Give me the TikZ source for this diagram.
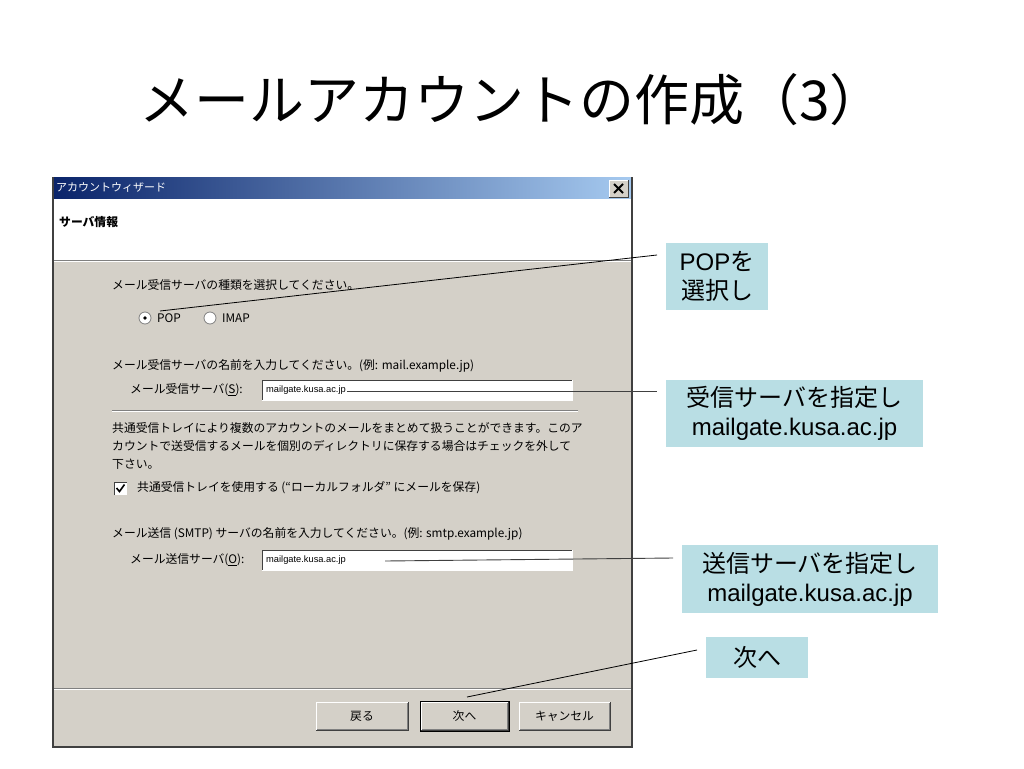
\documentclass[tikz,border=0pt]{standalone}
\usepackage{fontspec}
\setmainfont{Noto Sans CJK JP}
\newfontfamily\lat{Liberation Sans}
\usetikzlibrary{calc}
\definecolor{dlg}{HTML}{D4D0C8}
\definecolor{tbl}{HTML}{0A246A}
\definecolor{tbr}{HTML}{A6CAF0}
\definecolor{callfill}{HTML}{B9DEE4}
\definecolor{shadow}{HTML}{808080}
\definecolor{dkshadow}{HTML}{404040}
\tikzset{
  ui/.style={font=\fontsize{11.8}{13}\selectfont, anchor=west, inner sep=0pt, text=black},
  callout/.style={fill=callfill, draw=none, align=center, inner sep=0pt,
    font=\fontsize{24}{29}\selectfont, text=black},
  lead/.style={draw=black, line width=0.8pt},
  leadgray/.style={draw=dkshadow, line width=0.9pt},
  btntext/.style={font=\fontsize{11.8}{13}\selectfont, inner sep=0pt},
  etch/.style={draw=shadow, line width=0.8pt},
  etchw/.style={draw=white, line width=0.8pt},
}
\begin{document}
\begin{tikzpicture}[x=1pt,y=-1pt]
\useasboundingbox (0,0) rectangle (1024,768);
\fill[white] (0,0) rectangle (1024,768);
% title
\node[font=\fontsize{55}{62}\selectfont, inner sep=0pt] (title) at (512,100) {メールアカウントの作成（3）};
% dialog
\fill[dlg] (53,177) rectangle (632,747);
\shade[left color=tbl, right color=tbr] (53,177) rectangle (632,199);
\node[ui, text=white, font=\fontsize{11}{13}\selectfont] (wiztitle) at (56,188) {アカウントウィザード};
% close button
\fill[dlg] (609,180) rectangle (628,197);
\draw[white, line width=0.8pt] (609,197) -- (609,180) -- (628,180);
\draw[dkshadow, line width=0.8pt] (609,197) -- (628,197) -- (628,180);
\draw[line width=1.8pt] (614,184) -- (623,193) (623,184) -- (614,193);
% header
\fill[white] (53,199) rectangle (632,260);
\node[ui, font=\fontsize{11.8}{13}\selectfont\bfseries] (hdr) at (59,222) {サーバ情報};
\draw[etch] (53,260) -- (632,260);
\draw[etchw] (53,261.2) -- (632,261.2);
% body texts
\node[ui] (q1) at (112,285) {メール受信サーバの種類を選択してください。};
\fill[white] (145,318) circle (6);
\draw[shadow, line width=0.8pt] (145,318) circle (6);
\fill[black] (145,318) circle (1.8);
\node[ui] (pop) at (157,318) {POP};
\fill[white] (210,318) circle (6);
\draw[shadow, line width=0.8pt] (210,318) circle (6);
\node[ui] (imap) at (222,318) {IMAP};
\node[ui] (q2) at (112,366) {メール受信サーバの名前を入力してください。(例: mail.example.jp)};
\node[ui] (recvlbl) at (130,390) {メール受信サーバ(\underline{S}):};
\fill[white] (262,380) rectangle (572,400);
\draw[dkshadow, line width=1pt] (262,400) -- (262,380) -- (572,380);
\draw[white, line width=1pt] (262,400) -- (572,400) -- (572,380);
\node[ui, font=\lat\fontsize{9.3}{11}\selectfont] (recvval) at (266,390) {mailgate.kusa.ac.jp};
\draw[etch] (112,410) -- (578,410);
\draw[etchw] (112,411.2) -- (578,411.2);
\node[ui] (p1) at (112,428) {共通受信トレイにより複数のアカウントのメールをまとめて扱うことができます。このア};
\node[ui] (p2) at (112,446) {カウントで送受信するメールを個別のディレクトリに保存する場合はチェックを外して};
\node[ui] (p3) at (112,464) {下さい。};
\fill[white] (114,482) rectangle (127,495);
\draw[dkshadow, line width=1pt] (114,495) -- (114,482) -- (127,482);
\draw[line width=1.6pt] (116.5,488) -- (119.5,491.5) -- (124.5,484.5);
\node[ui] (chk) at (137,488) {共通受信トレイを使用する (“ローカルフォルダ” にメールを保存)};
\node[ui] (q3) at (112,534) {メール送信 (SMTP) サーバの名前を入力してください。(例: smtp.example.jp)};
\node[ui] (sendlbl) at (130,560) {メール送信サーバ(\underline{O}):};
\fill[white] (262,550) rectangle (572,570);
\draw[dkshadow, line width=1pt] (262,570) -- (262,550) -- (572,550);
\draw[white, line width=1pt] (262,570) -- (572,570) -- (572,550);
\node[ui, font=\lat\fontsize{9.3}{11}\selectfont] (sendval) at (266,560) {mailgate.kusa.ac.jp};
% bottom
\draw[etch] (53,688) -- (632,688);
\draw[etchw] (53,689.2) -- (632,689.2);
% buttons
\foreach \xa/\xb/\lbl/\nm in {316/408/戻る/back, 421/508/次へ/next, 519/610/キャンセル/cancel}{
  \draw[white, line width=1pt] (\xa,730) -- (\xa,702) -- (\xb,702);
  \draw[dkshadow, line width=1pt] (\xa,730) -- (\xb,730) -- (\xb,702);
  \draw[shadow, line width=1pt] (\xa+1,729) -- (\xb-1,729) -- (\xb-1,703);
  \node[btntext] (\nm) at ({(\xa+\xb)/2},716) {\lbl};
}
\draw[black, line width=1pt] (420,701) rectangle (509,731);
% outer border
\draw[dkshadow, line width=1.2pt] (53,177) -- (53,747) -- (632,747) -- (632,177);
% callouts
\node[callout, minimum width=102pt, minimum height=67pt] (cpop) at (717,276.5) {{\lat POP}を\\選択し};
\node[callout, minimum width=257pt, minimum height=67pt] (crecv) at (794.5,413.5) {受信サーバを指定し\\{\lat mailgate.kusa.ac.jp}};
\node[callout, minimum width=256pt, minimum height=68pt] (csend) at (810,579) {送信サーバを指定し\\{\lat mailgate.kusa.ac.jp}};
\node[callout, minimum width=102pt, minimum height=41pt] (cnext) at (757,657.5) {次へ};
% connector ends
\coordinate (a1) at (160,311);
\coordinate (b1) at (657,255);
\coordinate (a2) at (347,391);
\coordinate (b2) at (657,391);
\coordinate (a3) at (385,561);
\coordinate (b3) at (673,558);
\coordinate (a4) at (467,697);
\coordinate (b4) at (697,650);
\draw[lead] (a1) -- (b1);
\draw[leadgray] (a2) -- (b2);
\draw[leadgray] (a3) -- (b3);
\draw[lead] (a4) -- (b4);
\end{tikzpicture}
\end{document}
